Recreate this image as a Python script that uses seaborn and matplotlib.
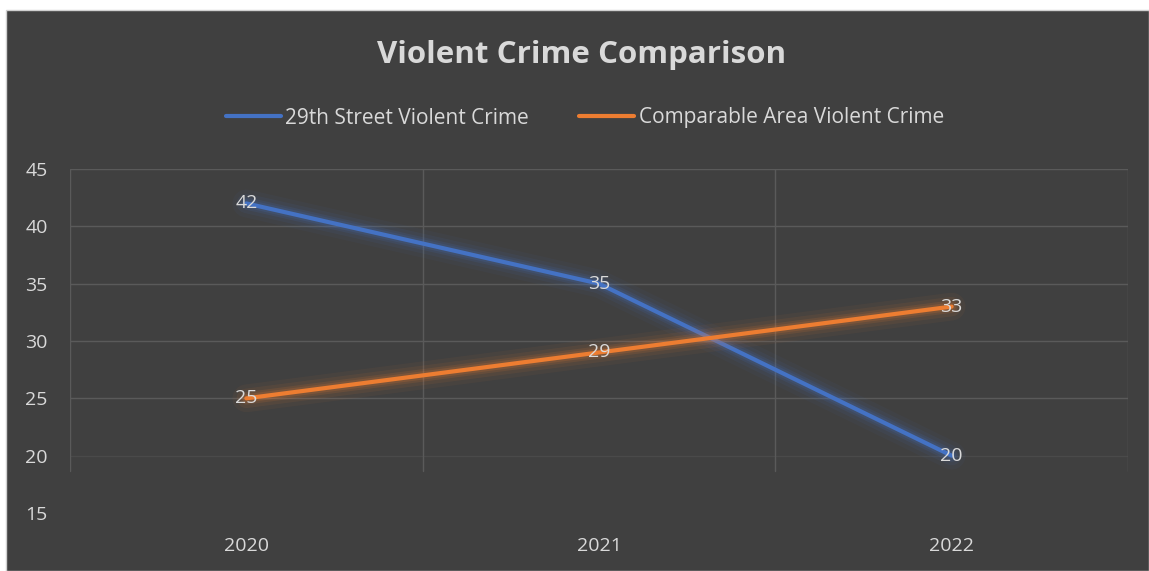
import matplotlib
matplotlib.use("Agg")
import matplotlib.pyplot as plt
import matplotlib.patheffects as pe
from matplotlib.patches import Rectangle
from matplotlib.lines import Line2D
import seaborn as sns
import pandas as pd

years = ["2020", "2021", "2022"]
street_29th = [42, 35, 20]
comparable_area = [25, 29, 33]
series_names = ["29th Street Violent Crime", "Comparable Area Violent Crime"]
colors = ["#4472C4", "#ED7D31"]
title = "Violent Crime Comparison"
y_ticks = [15, 20, 25, 30, 35, 40, 45]

df = pd.DataFrame({
    "Year": years * 2,
    "Value": street_29th + comparable_area,
    "Series": [series_names[0]] * 3 + [series_names[1]] * 3,
})
df["x"] = df["Year"].map({y: i for i, y in enumerate(years)})

sns.set_theme(style="dark")
plt.rcParams["font.family"] = ["Open Sans", "DejaVu Sans"]

W, H = 1149, 571
fig = plt.figure(figsize=(W / 100, H / 100), dpi=100)
fig.patch.set_facecolor("white")
bg = "#404040"
fig.patches.append(Rectangle((6 / W, 0), 1 - 6 / W, 1 - 10 / H, transform=fig.transFigure,
                             facecolor=bg, edgecolor="#d0d0d0", linewidth=1.0, zorder=-10))

ax = fig.add_axes([70 / W, 1 - 513 / H, (1128 - 70) / W, (513 - 169) / H])
ax.set_facecolor("none")

grid_c = "#5a5a5a"
for v in y_ticks[1:]:
    ax.axhline(v, color=grid_c if v > 20 else "#4a4a4a", linewidth=1.0, zorder=0)
for xv in [-0.5, 0.5, 1.5, 2.5]:
    ax.axvline(xv, ymin=(18.7 - 15) / 30, ymax=1, color=grid_c, linewidth=1.0, zorder=0)

sns.lineplot(data=df, x="x", y="Value", hue="Series", palette=colors, ax=ax,
             linewidth=3.0, legend=False, sort=False, zorder=3)

for line, c in zip(ax.lines[-2:], colors):
    line.set_solid_capstyle("round")
    line.set_path_effects([
        pe.Stroke(linewidth=20, foreground=c, alpha=0.05),
        pe.Stroke(linewidth=14, foreground=c, alpha=0.08),
        pe.Stroke(linewidth=9, foreground=c, alpha=0.12),
        pe.Stroke(linewidth=6, foreground=c, alpha=0.16),
        pe.Normal(),
    ])

txt_c = "#d9d9d9"
fs = 14
for _, r in df.iterrows():
    ax.text(r["x"], r["Value"], f"{r['Value']}", ha="center", va="center",
            color=txt_c, fontsize=fs, zorder=5)

ax.set_xlim(-0.5, 2.5)
ax.set_ylim(15, 45)
ax.set_yticks(y_ticks)
ax.set_yticklabels([str(v) for v in y_ticks])
ax.set_xticks(range(len(years)))
ax.set_xticklabels(years)
ax.tick_params(axis="both", colors=txt_c, labelsize=fs, length=0)
ax.tick_params(axis="y", pad=16)
ax.tick_params(axis="x", pad=17)
ax.set_xlabel("")
ax.set_ylabel("")
for s in ax.spines.values():
    s.set_visible(False)

fig.text(582 / W, 1 - 55 / H, title, ha="center", va="center", color=txt_c,
         fontsize=22.5, fontweight="bold")

handles = [Line2D([0], [0], color=c, linewidth=3.0, solid_capstyle="round") for c in colors]
fig.legend(handles, series_names, loc="center", bbox_to_anchor=(585 / W, 1 - 118 / H),
           ncol=2, frameon=False, fontsize=15, labelcolor=txt_c, handlelength=2.65,
           handletextpad=0.2, columnspacing=2.4)

fig.savefig("out.png", dpi=100, facecolor=fig.get_facecolor())
